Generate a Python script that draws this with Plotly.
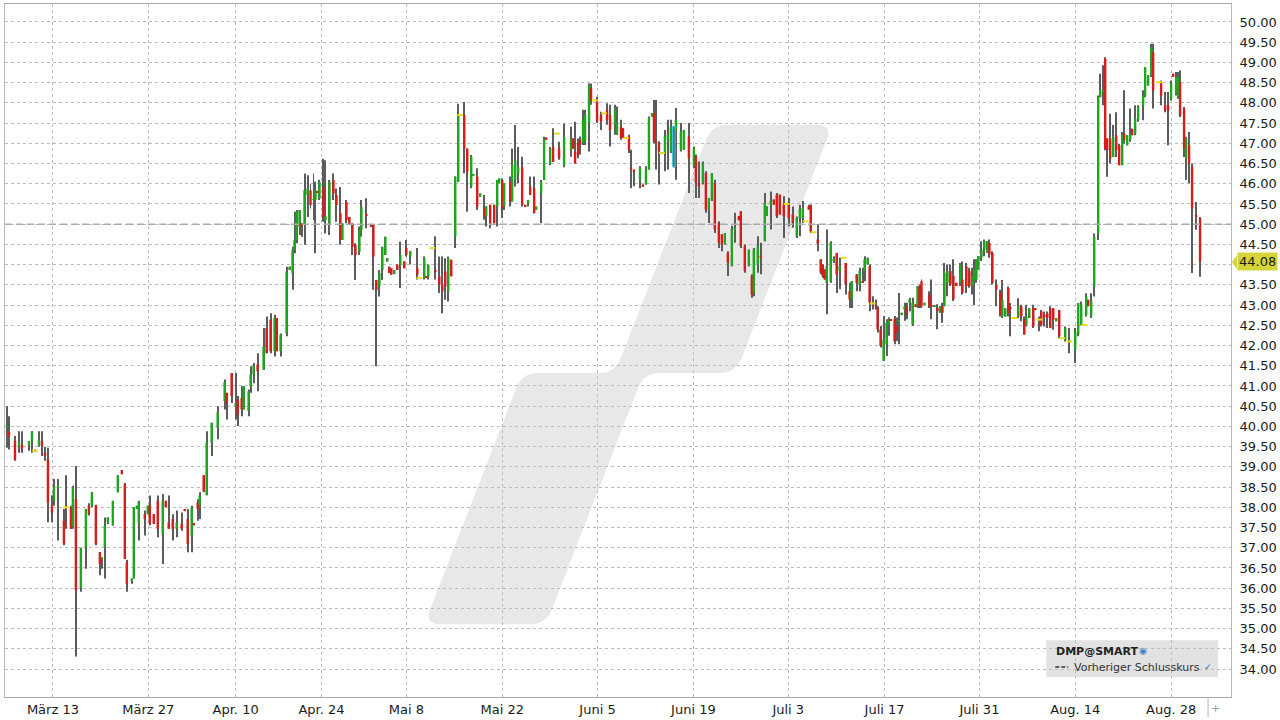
import math
import plotly.graph_objects as go

# ---------------- data ----------------
# t: horizontal bar slot (time position), o/h/l/c: open, high, low, close
t = [0, 2, 8, 12, 15, 22, 25, 28, 32, 35,
     38, 41, 45, 47, 51, 57, 59, 64, 66, 69,
     74, 79, 82, 85, 89, 93, 95, 98, 101, 106,
     111, 115, 118, 120, 125, 127, 130, 132, 138, 141,
     143, 147, 151, 156, 159, 162, 166, 170, 175, 178,
     181, 185, 187, 191, 193, 197, 200, 205, 211, 218,
     220, 225, 229, 231, 235, 237, 242, 244, 247, 251,
     257, 260, 264, 268, 270, 274, 280, 283, 286, 288,
     290, 293, 295, 298, 301, 304, 307, 309, 311, 313,
     317, 319, 323, 327, 330, 334, 336, 340, 343, 346,
     349, 353, 355, 360, 365, 367, 370, 373, 376, 379,
     381, 383, 385, 388, 391, 394, 398, 400, 404, 411,
     413, 418, 420, 422, 426, 429, 433, 436, 439, 442,
     445, 449, 452, 454, 458, 461, 465, 467, 471, 474,
     478, 480, 484, 488, 491, 493, 496, 498, 504, 506,
     509, 512, 516, 519, 522, 524, 528, 530, 535, 538,
     540, 544, 547, 551, 553, 558, 565, 567, 569, 572,
     574, 577, 579, 583, 585, 589, 591, 595, 598, 601,
     604, 609, 611, 615, 617, 620, 623, 625, 628, 634,
     637, 640, 643, 646, 648, 650, 653, 656, 659, 662,
     665, 668, 670, 675, 678, 683, 688, 690, 693, 697,
     700, 703, 706, 709, 713, 716, 719, 722, 726, 729,
     733, 735, 739, 743, 746, 748, 752, 755, 759, 761,
     765, 768, 771, 774, 778, 781, 783, 787, 791, 794,
     797, 800, 803, 805, 808, 812, 815, 817, 819, 821,
     825, 828, 831, 834, 838, 840, 844, 846, 851, 854,
     857, 859, 862, 864, 867, 870, 872, 875, 878, 881,
     883, 885, 889, 891, 893, 896, 899, 901, 904, 907,
     910, 912, 914, 916, 919, 924, 926, 929, 932, 935,
     937, 939, 942, 945, 948, 951, 955, 957, 961, 964,
     967, 969, 971, 973, 976, 979, 982, 984, 987, 991,
     995, 997, 1000, 1003, 1005, 1009, 1013, 1016, 1019, 1021,
     1024, 1028, 1030, 1034, 1036, 1039, 1042, 1045, 1048, 1051,
     1054, 1057, 1060, 1064, 1070, 1073, 1076, 1079, 1081, 1083,
     1086, 1089, 1093, 1095, 1098, 1100, 1102, 1105, 1108, 1111,
     1114, 1117, 1119, 1122, 1125, 1127, 1130, 1133, 1138, 1140,
     1143, 1146, 1148, 1154, 1156, 1160, 1163, 1166, 1168, 1171,
     1173, 1175, 1179, 1181, 1184, 1187, 1191, 1195]

o = [39.97, 39.86, 39.64, 39.5, 39.55, 39.52, 39.64, 39.4, 39.52, 39.64,
     39.35, 39.19, 38.04, 38.16, 38.49, 37.67, 38.0, 38.0, 37.51, 38.2,
     36.0, 37.02, 38.04, 38.04, 38.05, 36.89, 36.73, 37.02, 37.63, 37.55,
     38.37, 38.92, 38.57, 36.64, 36.2, 36.24, 37.96, 37.59, 37.83, 37.83,
     38.04, 37.83, 38.16, 37.34, 38.16, 37.63, 37.71, 37.47, 37.59, 37.94,
     37.71, 37.3, 37.6, 38.12, 38.04, 38.79, 38.3, 39.6, 39.97, 40.62,
     40.83, 41.32, 40.5, 40.66, 40.7, 40.42, 40.38, 40.99, 41.28, 41.53,
     41.4, 42.43, 42.64, 41.86, 42.68, 41.86, 42.31, 43.87, 43.79, 44.36,
     44.61, 44.94, 45.02, 44.98, 45.72, 45.84, 45.6, 45.6, 45.82, 45.64,
     45.92, 45.1, 44.98, 46.09, 45.72, 45.27, 44.61, 45.55, 45.18, 45.02,
     44.49, 44.32, 44.86, 45.25, 44.98, 44.98, 43.62, 43.46, 43.87, 44.24,
     44.08, 43.95, 43.91, 43.77, 44.0, 44.0, 44.08, 44.41, 44.2, 43.91,
     43.67, 43.67, 43.71, 43.71, 44.41, 43.87, 43.71, 43.5, 43.83, 43.34,
     44.12, 44.7, 46.05, 47.7, 47.7, 46.87, 45.93, 46.2, 46.18, 45.68,
     45.39, 45.2, 45.48, 45.48, 45.44, 46.01, 46.09, 45.44, 46.05, 45.56,
     46.1, 46.26, 46.41, 45.48, 45.52, 45.93, 45.89, 45.35, 45.76, 46.09,
     47.14, 46.5, 46.91, 47.24, 46.87, 46.46, 46.83, 47.12, 46.79, 47.0,
     47.09, 47.0, 47.05, 47.5, 48.36, 48.06, 48.06, 47.7, 47.74, 47.83,
     47.7, 47.46, 47.21, 47.41, 47.37, 47.13, 47.17, 46.4, 46.35, 46.1,
     45.98, 45.98, 46.35, 47.66, 47.74, 47.05, 47.0, 46.76, 46.76, 47.09,
     46.8, 46.43, 47.33, 46.84, 46.84, 47.17, 46.43, 46.68, 46.02, 46.02,
     46.26, 45.36, 45.61, 46.02, 45.03, 44.75, 44.5, 44.29, 43.96, 44.88,
     45.2, 45.32, 44.46, 43.96, 43.72, 43.3, 44.0, 44.22, 44.58, 45.2,
     45.48, 45.61, 45.73, 45.73, 45.48, 45.5, 45.54, 45.24, 44.7, 45.15,
     45.15, 45.07, 45.44, 45.48, 44.8, 44.62, 44.13, 44.0, 43.88, 43.55,
     43.59, 44.1, 44.29, 43.84, 44.17, 44.04, 43.34, 43.14, 43.76, 43.51,
     43.59, 43.84, 44.0, 43.96, 43.04, 43.0, 42.93, 42.4, 41.62, 42.03,
     42.52, 42.65, 42.65, 42.48, 42.6, 42.77, 42.89, 42.97, 43.06, 42.52,
     43.02, 42.97, 43.47, 43.59, 43.0, 43.26, 43.0, 42.95, 42.93, 42.81,
     42.97, 42.97, 43.55, 43.84, 43.72, 43.55, 43.55, 43.63, 43.96, 43.84,
     43.47, 43.63, 43.63, 43.88, 44.17, 44.37, 44.29, 44.54, 44.29, 43.5,
     43.33, 42.72, 42.72, 43.42, 42.95, 42.68, 42.72, 42.97, 42.64, 42.51,
     42.68, 42.92, 42.92, 42.64, 42.84, 42.76, 42.8, 42.92, 42.92, 42.6,
     42.88, 42.18, 42.14, 42.1, 41.9, 42.27, 42.51, 42.51, 42.76, 43.13,
     42.72, 43.46, 44.77, 48.14, 48.28, 49.09, 47.12, 47.12, 46.66, 47.2,
     46.95, 46.46, 47.24, 46.95, 47.08, 47.36, 47.24, 47.57, 47.94, 48.18,
     48.43, 48.68, 49.25, 48.51, 48.51, 47.94, 47.94, 48.1, 48.72, 48.23,
     48.14, 48.51, 47.86, 46.62, 46.95, 46.42, 45.23, 45.14]

h = [40.5, 40.25, 39.76, 39.88, 39.88, 39.64, 39.88, 39.43, 39.88, 39.88,
     39.5, 39.47, 38.3, 38.7, 38.7, 37.96, 38.79, 38.04, 38.53, 39.02,
     37.0, 37.96, 38.1, 38.37, 38.06, 36.89, 36.77, 37.75, 37.75, 38.16,
     38.79, 38.92, 38.6, 36.7, 36.24, 38.0, 38.04, 38.16, 37.92, 38.04,
     38.29, 37.83, 38.29, 38.33, 38.16, 38.29, 37.83, 37.92, 37.87, 37.96,
     37.96, 38.04, 37.6, 38.2, 38.37, 38.8, 39.88, 40.09, 40.5, 41.16,
     40.83, 41.32, 41.32, 40.75, 40.99, 40.99, 40.91, 41.49, 41.57, 41.81,
     42.43, 42.72, 42.8, 42.76, 42.68, 42.3, 43.95, 43.95, 44.44, 45.31,
     45.35, 45.35, 45.02, 46.25, 46.21, 46.0, 46.25, 46.05, 45.82, 46.1,
     46.62, 46.58, 46.09, 46.25, 45.88, 45.92, 45.02, 45.6, 45.18, 45.02,
     44.53, 44.94, 45.6, 45.64, 44.98, 44.98, 43.62, 43.87, 44.44, 44.69,
     44.16, 43.95, 43.91, 43.87, 44.0, 44.57, 44.08, 44.61, 44.33, 44.41,
     43.67, 44.2, 43.71, 44.0, 44.41, 44.7, 44.2, 44.2, 44.16, 44.2,
     44.12, 46.18, 47.98, 47.7, 48.02, 46.87, 46.71, 46.24, 46.38, 45.76,
     45.72, 45.44, 45.48, 45.48, 46.09, 46.13, 46.13, 46.01, 46.18, 46.87,
     47.45, 46.91, 46.67, 45.48, 45.6, 46.18, 46.18, 45.44, 46.09, 47.16,
     47.14, 46.91, 47.37, 47.24, 47.04, 47.49, 47.41, 47.12, 47.53, 47.12,
     47.17, 47.83, 47.83, 48.48, 48.48, 48.06, 48.15, 47.78, 47.74, 47.99,
     47.95, 47.95, 47.91, 47.58, 47.37, 47.13, 47.21, 46.84, 46.35, 46.43,
     45.98, 46.43, 47.66, 47.74, 48.07, 48.07, 47.05, 46.76, 47.33, 47.58,
     47.58, 47.41, 47.87, 47.5, 47.33, 47.5, 46.92, 46.72, 46.55, 46.55,
     46.31, 45.65, 46.26, 46.1, 45.07, 44.75, 44.78, 44.33, 44.96, 45.28,
     45.2, 45.32, 44.5, 44.37, 43.76, 44.41, 44.7, 44.54, 45.77, 45.44,
     45.81, 45.61, 45.77, 45.73, 45.69, 45.5, 45.65, 45.44, 45.19, 45.48,
     45.57, 45.07, 45.48, 45.48, 44.8, 44.99, 44.13, 44.0, 43.88, 44.87,
     44.58, 44.21, 44.29, 44.17, 44.17, 44.04, 43.55, 43.59, 43.76, 43.92,
     43.92, 44.21, 44.17, 44.0, 43.22, 43.14, 42.97, 42.48, 42.73, 42.65,
     42.69, 42.65, 42.73, 42.69, 43.3, 42.81, 43.06, 43.06, 43.18, 43.18,
     43.02, 43.47, 43.51, 43.63, 43.06, 43.34, 43.63, 43.0, 43.02, 42.97,
     43.06, 44.04, 44.0, 44.0, 44.13, 43.55, 44.04, 44.08, 44.04, 43.92,
     43.92, 44.13, 44.13, 44.21, 44.58, 44.62, 44.58, 44.62, 44.33, 43.63,
     43.38, 43.62, 42.92, 43.46, 43.05, 42.68, 43.17, 43.01, 42.72, 43.01,
     42.92, 43.01, 42.92, 42.72, 42.88, 42.84, 42.84, 42.97, 42.92, 42.68,
     42.88, 42.18, 42.47, 42.43, 42.43, 43.05, 43.09, 42.51, 43.29, 43.13,
     43.29, 44.77, 48.18, 48.72, 48.93, 49.13, 47.12, 47.73, 47.45, 47.77,
     46.99, 47.28, 48.31, 47.2, 47.86, 47.36, 47.94, 47.94, 48.31, 48.88,
     48.68, 49.46, 49.46, 48.51, 48.55, 48.27, 48.27, 48.55, 48.72, 48.76,
     48.76, 48.8, 47.9, 47.16, 47.28, 46.5, 45.55, 45.18]

l = [39.47, 39.43, 39.15, 39.35, 39.35, 39.4, 39.35, 39.37, 39.5, 39.27,
     39.15, 37.63, 37.63, 38.04, 37.18, 37.06, 37.47, 37.47, 37.47, 34.31,
     35.91, 36.48, 37.8, 38.0, 37.06, 36.32, 36.48, 36.24, 37.59, 37.55,
     38.37, 38.82, 36.72, 35.91, 36.11, 36.24, 37.96, 37.18, 37.3, 37.83,
     37.55, 37.59, 37.26, 36.6, 38.0, 37.47, 37.18, 37.26, 37.42, 37.9,
     36.89, 36.89, 37.55, 37.67, 37.71, 38.37, 38.3, 39.27, 39.68, 40.42,
     40.17, 40.58, 40.17, 40.01, 40.25, 40.42, 40.25, 40.83, 41.07, 40.87,
     41.4, 41.81, 41.81, 41.73, 41.86, 41.73, 42.23, 43.87, 43.38, 44.28,
     44.53, 44.73, 44.69, 44.49, 45.18, 45.39, 45.1, 44.28, 45.78, 45.6,
     45.06, 44.77, 44.73, 45.6, 45.06, 44.49, 44.61, 45.02, 44.98, 44.24,
     43.62, 44.24, 44.69, 44.9, 44.94, 43.38, 41.49, 43.21, 43.62, 44.24,
     44.08, 43.79, 43.75, 43.77, 43.87, 43.42, 43.91, 44.2, 44.0, 43.63,
     43.67, 43.63, 43.67, 43.63, 44.41, 43.63, 43.3, 42.8, 43.13, 43.09,
     43.71, 44.41, 46.05, 47.7, 46.26, 45.31, 45.89, 46.2, 45.35, 45.68,
     45.11, 44.94, 44.9, 45.02, 44.94, 46.01, 45.15, 45.35, 45.44, 45.56,
     45.93, 46.01, 45.44, 45.44, 45.44, 45.72, 45.27, 45.35, 45.02, 46.09,
     47.08, 46.46, 46.54, 47.24, 46.59, 46.41, 46.67, 46.87, 46.5, 46.63,
     46.72, 46.96, 46.96, 46.8, 47.95, 48.06, 47.5, 47.33, 47.74, 47.46,
     46.92, 47.21, 47.21, 47.09, 47.13, 47.13, 46.76, 45.89, 45.94, 45.89,
     45.92, 45.98, 46.35, 47.66, 47.0, 46.35, 45.98, 46.76, 46.31, 46.35,
     46.76, 46.4, 46.1, 46.8, 46.84, 45.77, 46.39, 45.65, 45.65, 45.98,
     45.28, 45.03, 45.57, 44.78, 44.41, 44.33, 44.5, 43.72, 43.96, 44.54,
     45.1, 44.41, 43.8, 43.96, 43.18, 43.22, 43.8, 43.76, 44.58, 45.2,
     44.87, 45.48, 45.15, 45.24, 44.66, 45.5, 44.95, 44.91, 44.66, 44.7,
     45.03, 45.07, 45.36, 44.78, 44.8, 44.33, 43.76, 43.67, 43.63, 42.77,
     43.55, 44.04, 43.3, 43.39, 44.17, 43.26, 42.93, 42.93, 43.34, 43.34,
     43.55, 43.59, 44.0, 42.85, 42.89, 42.89, 42.32, 41.95, 41.62, 41.74,
     42.24, 42.61, 42.03, 42.11, 42.03, 42.77, 42.61, 42.65, 42.85, 42.48,
     42.95, 42.93, 42.93, 42.93, 43.0, 42.93, 42.65, 42.95, 42.4, 42.81,
     42.56, 42.97, 43.22, 43.47, 43.1, 43.47, 43.47, 43.26, 43.3, 43.43,
     43.26, 43.0, 43.55, 43.88, 44.09, 44.21, 44.29, 44.17, 43.51, 42.97,
     42.72, 42.68, 42.72, 42.72, 42.23, 42.68, 42.68, 42.6, 42.27, 42.47,
     42.68, 42.43, 42.88, 42.35, 42.47, 42.47, 42.43, 42.43, 42.39, 42.6,
     42.18, 42.18, 42.1, 41.81, 41.57, 42.23, 42.51, 42.51, 42.72, 42.97,
     42.68, 43.21, 44.61, 48.14, 47.94, 46.83, 46.17, 46.5, 46.66, 46.66,
     46.46, 46.46, 46.99, 46.95, 47.04, 47.2, 47.2, 47.53, 47.57, 48.14,
     48.43, 48.64, 47.86, 48.51, 47.94, 47.77, 46.95, 48.06, 48.64, 48.18,
     48.1, 47.65, 46.66, 46.09, 46.01, 43.79, 44.86, 43.7]

c = [40.02, 39.75, 39.17, 39.6, 39.45, 39.64, 39.88, 39.4, 39.68, 39.52,
     39.27, 38.12, 37.87, 38.5, 38.53, 37.1, 38.0, 37.47, 38.49, 35.95,
     37.0, 37.96, 37.83, 38.37, 37.1, 36.6, 36.77, 37.55, 37.75, 38.16,
     38.79, 38.82, 36.72, 36.11, 36.24, 38.0, 38.04, 38.14, 37.71, 38.04,
     37.59, 37.59, 37.47, 38.16, 38.0, 37.47, 37.47, 37.63, 37.47, 37.92,
     37.1, 38.0, 37.57, 37.96, 38.29, 38.4, 39.6, 40.09, 40.35, 41.1,
     40.58, 40.75, 40.58, 40.29, 40.42, 40.99, 40.87, 41.28, 41.49, 41.36,
     41.98, 41.81, 41.86, 42.68, 41.86, 42.27, 43.83, 43.95, 44.36, 44.61,
     45.31, 45.35, 44.95, 45.84, 45.88, 45.47, 45.62, 45.84, 45.78, 46.05,
     45.14, 45.2, 46.05, 45.76, 45.47, 44.61, 45.02, 45.1, 44.98, 44.44,
     44.24, 44.86, 45.43, 45.21, 44.94, 44.2, 43.38, 43.79, 44.44, 44.69,
     44.16, 43.79, 43.75, 43.87, 43.87, 44.24, 43.91, 44.24, 44.33, 43.75,
     43.67, 44.16, 43.67, 44.0, 44.41, 43.83, 43.5, 43.34, 43.46, 44.16,
     43.71, 46.18, 47.7, 47.7, 46.87, 46.3, 46.67, 46.24, 45.44, 45.76,
     45.19, 45.44, 44.98, 45.02, 46.09, 46.13, 45.39, 46.01, 45.56, 46.46,
     46.59, 46.41, 45.48, 45.44, 45.6, 45.72, 45.27, 45.44, 46.05, 47.12,
     47.08, 46.87, 46.54, 47.24, 46.63, 47.16, 47.12, 46.87, 46.5, 46.71,
     46.96, 47.58, 47.7, 48.44, 48.07, 48.06, 47.54, 47.54, 47.74, 47.58,
     47.33, 47.87, 47.5, 47.13, 47.13, 47.13, 46.84, 46.35, 46.31, 46.39,
     45.92, 46.35, 47.62, 47.74, 47.05, 47.0, 46.8, 46.76, 47.17, 47.21,
     47.41, 47.41, 47.58, 47.29, 47.33, 46.63, 46.88, 46.02, 45.94, 46.51,
     45.36, 45.65, 46.26, 44.87, 44.54, 44.5, 44.78, 44.05, 44.88, 44.92,
     45.1, 44.46, 43.84, 44.37, 43.26, 44.37, 44.46, 44.18, 45.52, 45.44,
     45.57, 45.48, 45.2, 45.24, 45.2, 45.5, 45.15, 45.03, 45.15, 45.36,
     45.4, 45.07, 45.36, 44.82, 44.8, 44.52, 43.8, 43.71, 43.63, 43.96,
     44.54, 44.12, 43.76, 43.96, 44.17, 43.51, 43.14, 43.59, 43.55, 43.84,
     43.55, 44.13, 44.17, 43.06, 43.04, 42.98, 42.4, 41.99, 42.15, 42.56,
     42.65, 42.61, 42.11, 42.32, 42.62, 42.81, 42.97, 42.77, 43.14, 43.06,
     42.95, 43.47, 42.97, 42.97, 43.06, 42.97, 42.97, 43.0, 42.85, 42.97,
     42.81, 43.8, 43.84, 43.51, 43.14, 43.47, 44.0, 43.3, 43.47, 43.47,
     43.71, 43.88, 44.13, 44.21, 44.37, 44.58, 44.58, 44.25, 43.55, 43.38,
     42.76, 43.13, 42.92, 42.8, 42.92, 42.68, 42.97, 42.72, 42.27, 42.72,
     42.92, 42.47, 42.88, 42.64, 42.51, 42.72, 42.68, 42.43, 42.64, 42.68,
     42.23, 42.18, 42.43, 42.1, 42.35, 43.05, 43.01, 42.51, 43.21, 42.97,
     43.09, 44.69, 48.14, 48.31, 48.32, 46.87, 46.83, 46.62, 47.16, 46.83,
     46.46, 47.2, 47.08, 47.2, 47.24, 47.2, 47.61, 47.9, 48.18, 48.88,
     48.68, 49.38, 48.31, 48.51, 48.18, 47.81, 47.81, 48.47, 48.64, 48.64,
     48.64, 47.69, 46.87, 47.12, 46.5, 45.39, 45.18, 44.08]

tick_pos = [46, 141.5, 229, 315, 400, 496, 591.5, 687.5, 782.5, 879, 974, 1070, 1166]
tick_text = ["März 13", "März 27", "Apr. 10", "Apr. 24", "Mai 8", "Mai 22", "Juni 5",
             "Juni 19", "Juli 3", "Juli 17", "Juli 31", "Aug. 14", "Aug. 28"]
price_ticks = [34 + 0.5 * k for k in range(33)]
prev_close = 45.00
highlight_t = 668          # bar drawn hollow cyan in the original
symbol_name = "DMP@SMART"
legend_line = "Vorheriger Schlusskurs"

n = len(t)
assert len(o) == n and len(h) == n and len(l) == n and len(c) == n, (n, len(o), len(h), len(l), len(c))

# ---------------- styling ----------------
FONT = "DejaVu Sans"
GREEN = "#1fa61f"
RED = "#d81b1b"
DOJI = "#e9dc16"
WICK = "#5c5c5c"
CYAN = "#2fc3d8"
GRID = "#bcbcbc"

PL, PR, PT, PB = 5, 1233, 3, 698          # plot area in pixels
W, H = 1280, 720


def px_x(px):
    return (px - PL) / (PR - PL)


def px_y(py):
    return (PB - py) / (PB - PT)


hl = t.index(highlight_t)
bx, by, bb, bcol = [], [], [], []
dx, dy = [], []
for i in range(n):
    if i == hl:
        continue
    if c[i] == o[i]:
        dx.append(t[i]); dy.append(c[i])
        continue
    bx.append(t[i]); bb.append(min(o[i], c[i])); by.append(abs(c[i] - o[i]))
    bcol.append(GREEN if c[i] > o[i] else RED)

fig = go.Figure()
fig.add_trace(go.Bar(x=t, y=[a - b for a, b in zip(h, l)], base=l, width=1.0,
                     marker=dict(color=WICK, line=dict(width=0)), hoverinfo="skip"))
fig.add_trace(go.Bar(x=bx, y=by, base=bb, width=2.4,
                     marker=dict(color=bcol, line=dict(width=0)), hoverinfo="skip"))
fig.add_trace(go.Bar(x=[t[hl]], y=[abs(c[hl] - o[hl])], base=[min(o[hl], c[hl])], width=2.4,
                     marker=dict(color="rgba(0,0,0,0)", line=dict(color=CYAN, width=1.2)),
                     hoverinfo="skip"))
fig.add_trace(go.Scatter(x=dx, y=dy, mode="markers", hoverinfo="skip",
                         marker=dict(symbol="line-ew", size=4, line=dict(color=DOJI, width=2))))


# watermark (rounded S-shaped band)
def rounded_path(pts, r):
    segs = []
    m = len(pts)
    for i in range(m):
        x0, y0 = pts[i - 1]; x1, y1 = pts[i]; x2, y2 = pts[(i + 1) % m]
        d1 = math.hypot(x0 - x1, y0 - y1); d2 = math.hypot(x2 - x1, y2 - y1)
        rr = min(r, d1 / 2, d2 / 2)
        a = (x1 + (x0 - x1) * rr / d1, y1 + (y0 - y1) * rr / d1)
        b = (x1 + (x2 - x1) * rr / d2, y1 + (y2 - y1) * rr / d2)
        segs.append((a, (x1, y1), b))
    f = lambda p: f"{px_x(p[0]):.5f},{px_y(p[1]):.5f}"
    s = f"M {f(segs[0][0])} Q {f(segs[0][1])} {f(segs[0][2])}"
    for a, v, b in segs[1:]:
        s += f" L {f(a)} Q {f(v)} {f(b)}"
    return s + " Z"


wm = [(713, 124), (834, 124), (737, 373), (645, 373), (547, 625), (425, 625), (523, 373), (616, 373)]
shapes = [
    dict(type="path", xref="paper", yref="paper", path=rounded_path(wm, 16),
         fillcolor="#e8e8e8", line=dict(width=0), layer="below"),
    # legend box
    dict(type="rect", xref="paper", yref="paper", x0=px_x(1048), x1=px_x(1220),
         y0=px_y(678), y1=px_y(641), fillcolor="#e2e2e2", line=dict(width=0), layer="below"),
    dict(type="line", xref="paper", yref="paper", x0=px_x(1057), x1=px_x(1070),
         y0=px_y(668), y1=px_y(668), line=dict(color="#333333", width=1.5, dash="4px,2px")),
    # previous close
    dict(type="line", xref="paper", yref="y", x0=0, x1=1, y0=prev_close, y1=prev_close,
         line=dict(color="#aaaaaa", width=1.5, dash="7px,4px")),
    # separator under axis
    dict(type="line", xref="paper", yref="paper", x0=px_x(1210), x1=px_x(1210),
         y0=0, y1=px_y(718), line=dict(color="#b5b5b5", width=1)),
    # last price tag pointer
    dict(type="path", xref="paper", yref="paper",
         path=f"M {px_x(1234):.5f},{px_y(262):.5f} L {px_x(1239):.5f},{px_y(255):.5f} "
              f"L {px_x(1239):.5f},{px_y(269):.5f} Z",
         fillcolor="#d5d43a", line=dict(width=0), layer="above"),
]

annotations = [
    dict(xref="paper", yref="y", x=px_x(1239), y=c[-1], xanchor="left", yanchor="middle",
         text=f"{c[-1]:.2f}", showarrow=False, bgcolor="#d5d43a", borderpad=1,
         font=dict(family=FONT, size=13, color="#1a1a1a")),
    dict(xref="paper", yref="paper", x=px_x(1056), y=px_y(652), xanchor="left", yanchor="middle",
         text=f"<b>{symbol_name}</b>", showarrow=False,
         font=dict(family=FONT, size=11, color="#222222")),
    dict(xref="paper", yref="paper", x=px_x(1145), y=px_y(652), xanchor="center", yanchor="middle",
         text="◉", showarrow=False, font=dict(family=FONT, size=9, color="#3d7fc8")),
    dict(xref="paper", yref="paper", x=px_x(1074), y=px_y(668), xanchor="left", yanchor="middle",
         text=legend_line, showarrow=False, font=dict(family=FONT, size=11, color="#333333")),
    dict(xref="paper", yref="paper", x=px_x(1210), y=px_y(668), xanchor="center", yanchor="middle",
         text="✓", showarrow=False, font=dict(family=FONT, size=9, color="#2f6fc4")),
    dict(xref="paper", yref="paper", x=px_x(1217), y=px_y(710), xanchor="center", yanchor="middle",
         text="+", showarrow=False, font=dict(family=FONT, size=11, color="#9a9a9a")),
]

# the tick label hidden under the last-price tag is left blank (its gridline stays)
price_text = ["" if abs(v - c[-1]) < 0.2 else f"{v:.2f}" for v in price_ticks]

fig.update_layout(
    width=W, height=H,
    margin=dict(l=PL, r=W - PR, t=PT, b=H - PB, pad=0),
    paper_bgcolor="white", plot_bgcolor="white",
    barmode="overlay", showlegend=False, hovermode=False,
    font=dict(family=FONT, size=13, color="#1a1a1a"),
    shapes=shapes, annotations=annotations,
    xaxis=dict(range=[PL - 7, PR - 7], tickmode="array", tickvals=tick_pos, ticktext=tick_text,
               showgrid=True, gridcolor=GRID, gridwidth=1, griddash="dot",
               showline=True, linecolor="#a8a8a8", linewidth=1, mirror=True,
               zeroline=False, ticks="", tickfont=dict(family=FONT, size=13, color="#1a1a1a")),
    yaxis=dict(side="right", range=[34 - (PB - 670) / 40.56, 50 + (21 - PT) / 40.56],
               tickmode="array", tickvals=price_ticks, ticktext=price_text,
               showgrid=True, gridcolor=GRID, gridwidth=1, griddash="dot",
               showline=True, linecolor="#b8b8b8", linewidth=1, mirror=True,
               zeroline=False, ticks="", ticklabelstandoff=5,
               tickfont=dict(family=FONT, size=13, color="#1a1a1a")),
)

fig.write_html("out.html", config={"displayModeBar": False},
               post_script="document.body.style.margin='0';document.body.style.overflow='hidden';")
